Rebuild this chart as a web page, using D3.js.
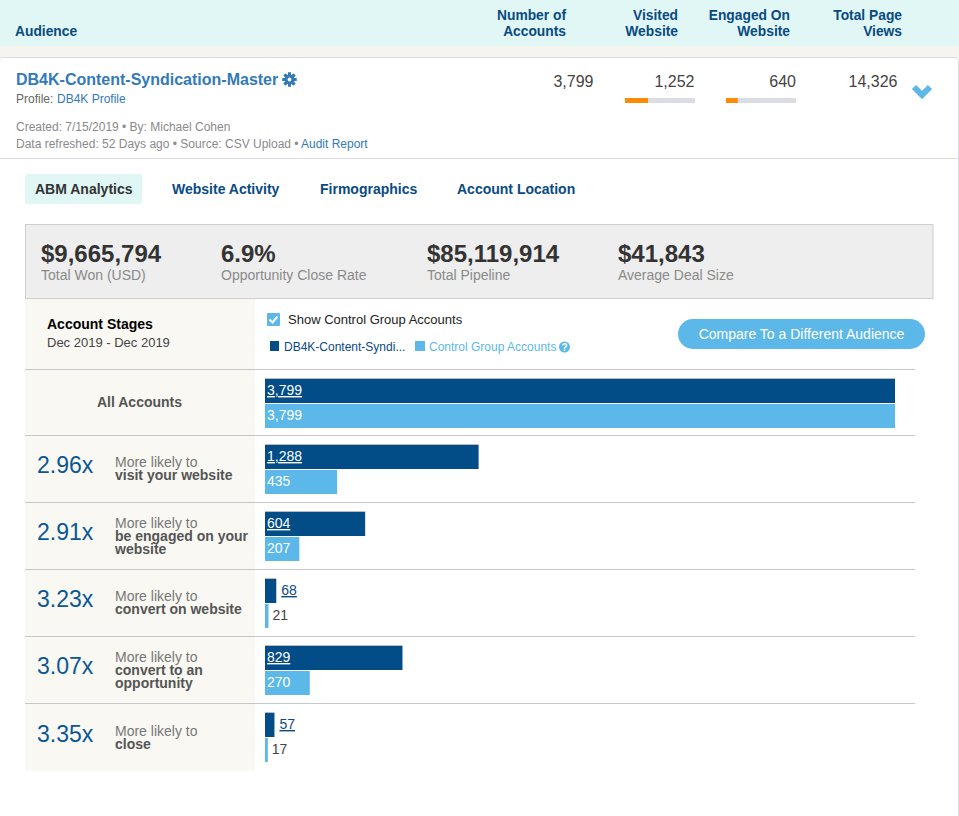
<!DOCTYPE html>
<html>
<head>
<meta charset="utf-8">
<script src="https://cdn.jsdelivr.net/npm/d3@7"></script>
<style>
    html, body { margin: 0; background: #fff; overflow: hidden; }
    text { font-family: "Liberation Sans", Arial, sans-serif; }
    .link { text-decoration: underline; }
</style>
</head>
<body>
<svg id="chart" width="959" height="816"></svg>
<script>
// Data
const stages = ["All Accounts", "Visit", "Engaged", "Convert", "Opportunity", "Close"];
const audienceValues = [3799, 1288, 604, 68, 829, 57];
const controlValues = [3799, 435, 207, 21, 270, 17];
const liftLabels = ["", "2.96x", "2.91x", "3.23x", "3.07x", "3.35x"];
const stageLines = [
    [],
    ["visit your website"],
    ["be engaged on your", "website"],
    ["convert on website"],
    ["convert to an", "opportunity"],
    ["close"]
];
const headerColumns = [["Number of", "Accounts"], ["Visited", "Website"], ["Engaged On", "Website"], ["Total Page", "Views"]];
const tabNames = ["ABM Analytics", "Website Activity", "Firmographics", "Account Location"];
const kpiValues = ["$9,665,794", "6.9%", "$85,119,914", "$41,843"];
const kpiLabels = ["Total Won (USD)", "Opportunity Close Rate", "Total Pipeline", "Average Deal Size"];
const totalAccounts = 3799, visitedAccounts = 1252, engagedAccounts = 640;

const dark = "#024c88", light = "#5cb8e8", navy = "#0a4a82", blue = "#337ab7", gray = "#8a8a8a";

const svg = d3.select("#chart");

function label(x, y, text, size, color, opts) {
    opts = opts || {};
    return svg.append("text")
        .attr("x", x).attr("y", y)
        .attr("font-size", size)
        .attr("fill", color)
        .attr("font-weight", opts.bold ? "bold" : "normal")
        .attr("text-anchor", opts.anchor || "start")
        .attr("class", opts.link ? "link" : null)
        .text(text);
}
function box(x, y, w, h, fill, rx) {
    return svg.append("rect").attr("x", x).attr("y", y).attr("width", w).attr("height", h)
        .attr("fill", fill).attr("rx", rx || 0);
}

// Page header
box(0, 0, 959, 46, "#e0f7f5");
box(0, 46, 959, 12, "#f6f4ee");
label(15, 36, "Audience", 13.8, navy, {bold: true});
const headerRight = [566, 678, 790, 902];
headerColumns.forEach((lines, i) => {
    lines.forEach((t, j) => label(headerRight[i], 20 + j * 16, t, 13.8, navy, {bold: true, anchor: "end"}));
});

// Card
svg.append("path")
    .attr("d", "M-1,816V60Q-1,57.5 3,57.5H954Q958.5,57.5 958.5,62V816")
    .attr("fill", "#fff").attr("stroke", "#dcdce4");
svg.append("line").attr("x1", 0).attr("x2", 958).attr("y1", 158.5).attr("y2", 158.5).attr("stroke", "#dcdce4");

label(16, 85, "DB4K-Content-Syndication-Master", 16, blue, {bold: true});
// Gear icon
const gear = svg.append("g").attr("transform", "translate(289.5,79.5)");
d3.range(8).forEach(i => {
    gear.append("rect").attr("x", -1.5).attr("y", -7).attr("width", 3).attr("height", 14)
        .attr("fill", blue).attr("transform", `rotate(${i * 45})`);
});
gear.append("circle").attr("r", 3.8).attr("fill", "none").attr("stroke", blue).attr("stroke-width", 2.6);
gear.append("circle").attr("r", 1.9).attr("fill", "#fff");

label(16, 103, "Profile:", 12, "#666");
label(57, 103, "DB4K Profile", 12, blue);
label(16, 131, "Created: 7/15/2019 • By: Michael Cohen", 12, gray);
label(16, 148, "Data refreshed: 52 Days ago • Source: CSV Upload •", 12, gray);
label(301, 148, "Audit Report", 12, blue);

// Summary numbers
const summaryRight = [593.5, 694.5, 796, 897.5];
[totalAccounts, visitedAccounts, engagedAccounts, 14326].forEach((v, i) => {
    label(summaryRight[i], 87, d3.format(",")(v), 16, "#444", {anchor: "end"});
});

// Small progress bars
const progress = d3.scaleLinear().domain([0, totalAccounts]).range([0, 70]);
[[625, visitedAccounts], [726, engagedAccounts]].forEach(d => {
    box(d[0], 98, 70, 5, "#dcdce4");
    box(d[0], 98, progress(d[1]), 5, "#ff8c00");
});

// Chevron
svg.append("path").attr("d", "M914,87L922,95L930,87")
    .attr("fill", "none").attr("stroke", light).attr("stroke-width", 6);

// Tabs
box(25, 174, 117, 30, "#e0f7f5", 3);
const tabX = [35, 172, 320, 457];
tabNames.forEach((t, i) => label(tabX[i], 194, t, 14, i === 0 ? "#333" : navy, {bold: true}));

// KPI panel
box(25.5, 224.5, 907.5, 74, "#eeeeee").attr("stroke", "#cfcfcf");
const kpiX = [41, 221, 427, 618];
kpiValues.forEach((t, i) => {
    label(kpiX[i], 262, t, 24, "#333", {bold: true});
    label(kpiX[i], 280, kpiLabels[i], 14, gray);
});

// Left column and controls
box(25, 299, 230, 472, "#f9f8f3");
label(47, 329, "Account Stages", 14, "#000", {bold: true});
label(47, 347, "Dec 2019 - Dec 2019", 13, "#444");

box(267, 313, 13, 13, light, 1);
svg.append("path").attr("d", "M269.5,319.5L272.5,322.5L277.5,316.5")
    .attr("fill", "none").attr("stroke", "#fff").attr("stroke-width", 2);
label(288, 324, "Show Control Group Accounts", 13, "#222");

box(270, 341, 9, 10, dark);
label(284, 351, "DB4K-Content-Syndi...", 12, navy);
box(415, 341, 10, 10, light);
label(429, 351, "Control Group Accounts", 12, light);
svg.append("circle").attr("cx", 564.5).attr("cy", 347).attr("r", 5.5).attr("fill", light);
label(564.5, 350.5, "?", 10, "#fff", {bold: true, anchor: "middle"});

box(678, 319, 247, 30, light, 15);
label(801.5, 339, "Compare To a Different Audience", 14, "#fff", {anchor: "middle"});

// Bars
const x = d3.scaleLinear().domain([0, totalAccounts]).range([0, 630]);
const y = d3.scaleLinear().domain([0, stages.length]).range([370, 771]);
const rowTop = i => Math.floor(y(i));
const barHeight = 24;

const rows = stages.map((s, i) => ({
    stage: s, i: i, audience: audienceValues[i], control: controlValues[i],
    lift: liftLabels[i], lines: stageLines[i]
}));

rows.forEach(d => {
    svg.append("line").attr("x1", 25).attr("x2", 915)
        .attr("y1", rowTop(d.i) - 0.5).attr("y2", rowTop(d.i) - 0.5)
        .attr("stroke", "#c8c6c9");
});

svg.selectAll(".bar-top").data(rows).enter().append("rect")
    .attr("class", "bar-top")
    .attr("x", 265).attr("y", d => rowTop(d.i) + 8)
    .attr("width", d => x(d.audience)).attr("height", 1)
    .attr("fill", "#bbbbbb");

svg.selectAll(".bar-audience").data(rows).enter().append("rect")
    .attr("class", "bar-audience")
    .attr("x", 265).attr("y", d => rowTop(d.i) + 9)
    .attr("width", d => x(d.audience)).attr("height", barHeight)
    .attr("fill", dark);

svg.selectAll(".bar-control").data(rows).enter().append("rect")
    .attr("class", "bar-control")
    .attr("x", 265).attr("y", d => rowTop(d.i) + 34)
    .attr("width", d => x(d.control)).attr("height", barHeight)
    .attr("fill", light);

// Value labels go inside a bar when they fit
rows.forEach(d => {
    const top = rowTop(d.i);
    const audienceInside = x(d.audience) > 40, controlInside = x(d.control) > 30;
    label(audienceInside ? 267 : 265 + x(d.audience) + 5, top + 25, d3.format(",")(d.audience), 14,
        audienceInside ? "#fff" : navy, {link: true});
    label(controlInside ? 267 : 265 + x(d.control) + 4, top + 50, d3.format(",")(d.control), 14,
        controlInside ? "#fff" : "#444");

    if (d.i === 0) {
        label(139.5, top + 37, d.stage, 14, "#555", {bold: true, anchor: "middle"});
        return;
    }
    label(37, top + (d.i === 5 ? 38 : 37), d.lift, 23, "#0b5794");
    const firstLine = d.lines.length > 1 ? top + 25 : top + (d.i === 5 ? 32 : 31);
    label(115, firstLine, "More likely to", 14, "#777");
    d.lines.forEach((t, j) => label(115, firstLine + 13 * (j + 1), t, 14, "#555", {bold: true}));
});
</script>
</body>
</html>
